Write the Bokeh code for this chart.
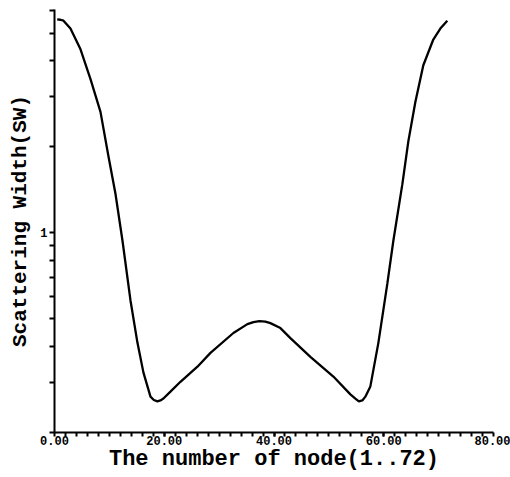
from bokeh.plotting import figure
from bokeh.models import FixedTicker, PrintfTickFormatter, CustomJSTickFormatter, Range1d
from bokeh.embed import file_html
from bokeh.resources import INLINE

# Data
node = [0.49, 1.09, 1.64, 2.91, 4.74, 6.56, 8.38, 9.84, 11.11, 12.39, 13.84, 15.12, 16.21,
        17.49, 18.1, 18.76, 19.3, 19.85, 21.13, 22.95, 26.05, 28.42, 32.6, 35.15, 36.25,
        37.34, 38.43, 39.34, 41.17, 42.99, 46.63, 50.82, 53.92, 54.83, 55.46, 56.1, 56.65,
        57.56, 59.02, 60.66, 61.75, 63.39, 64.48, 65.76, 67.21, 69.03, 70.31, 71.58]
sw = [5.59, 5.57, 5.53, 5.19, 4.39, 3.45, 2.65, 1.85, 1.37, 0.938, 0.581, 0.412, 0.324,
      0.267, 0.260, 0.257, 0.259, 0.263, 0.278, 0.301, 0.340, 0.380, 0.446, 0.479, 0.487,
      0.491, 0.489, 0.483, 0.464, 0.428, 0.368, 0.314, 0.272, 0.263, 0.257, 0.259, 0.267,
      0.290, 0.412, 0.665, 0.938, 1.48, 2.09, 2.87, 3.86, 4.75, 5.19, 5.53]

x_major = [0, 20, 40, 60, 80]
x_minor = list(range(2, 80, 2))
y_ticks = [0.2, 0.3, 0.4, 0.5, 0.6, 0.7, 0.8, 0.9, 1, 2, 3, 4, 5, 6]

FONT = "Liberation Mono"

p = figure(width=510, height=477, x_range=Range1d(0, 80), y_range=Range1d(0.2, 6.05),
           y_axis_type="log", output_backend="svg", toolbar_location=None,
           min_border_left=54, min_border_right=17, min_border_top=9, min_border_bottom=45)
p.grid.visible = False
p.outline_line_color = None
p.background_fill_color = "white"

p.line(node, sw, line_color="black", line_width=2.3)

xa = p.xaxis[0]
xa.ticker = FixedTicker(ticks=x_major, minor_ticks=x_minor)
xa.formatter = PrintfTickFormatter(format="%.2f")
xa.axis_label = "The number of node(1..72)"
xa.axis_label_text_font = FONT
xa.axis_label_text_font_style = "bold"
xa.axis_label_text_font_size = "22px"
xa.axis_label_text_color = "black"
xa.axis_label_standoff = -1
xa.major_label_text_font = FONT
xa.major_label_text_font_style = "bold"
xa.major_label_text_font_size = "12px"
xa.major_label_text_color = "black"
xa.major_label_standoff = -1
xa.major_tick_out = 4
xa.major_tick_in = 0
xa.minor_tick_out = 4
xa.minor_tick_in = 0
xa.axis_line_width = 2
xa.major_tick_line_width = 2
xa.minor_tick_line_width = 2
xa.axis_line_color = "black"
xa.major_tick_line_color = "black"
xa.minor_tick_line_color = "black"

ya = p.yaxis[0]
ya.ticker = FixedTicker(ticks=y_ticks, minor_ticks=[])
ya.formatter = CustomJSTickFormatter(code="return tick == 1 ? '1' : '';")
ya.axis_label = "Scattering Width(SW)"
ya.axis_label_text_font = FONT
ya.axis_label_text_font_style = "bold"
ya.axis_label_text_font_size = "21px"
ya.axis_label_text_color = "black"
ya.axis_label_standoff = 5
ya.major_label_text_font = FONT
ya.major_label_text_font_style = "bold"
ya.major_label_text_font_size = "12px"
ya.major_label_text_color = "black"
ya.major_label_standoff = 2
ya.major_tick_out = 5
ya.major_tick_in = 0
ya.minor_tick_out = 0
ya.axis_line_width = 2
ya.major_tick_line_width = 2
ya.axis_line_color = "black"
ya.major_tick_line_color = "black"

open("out.html", "w").write(file_html(p, INLINE))
